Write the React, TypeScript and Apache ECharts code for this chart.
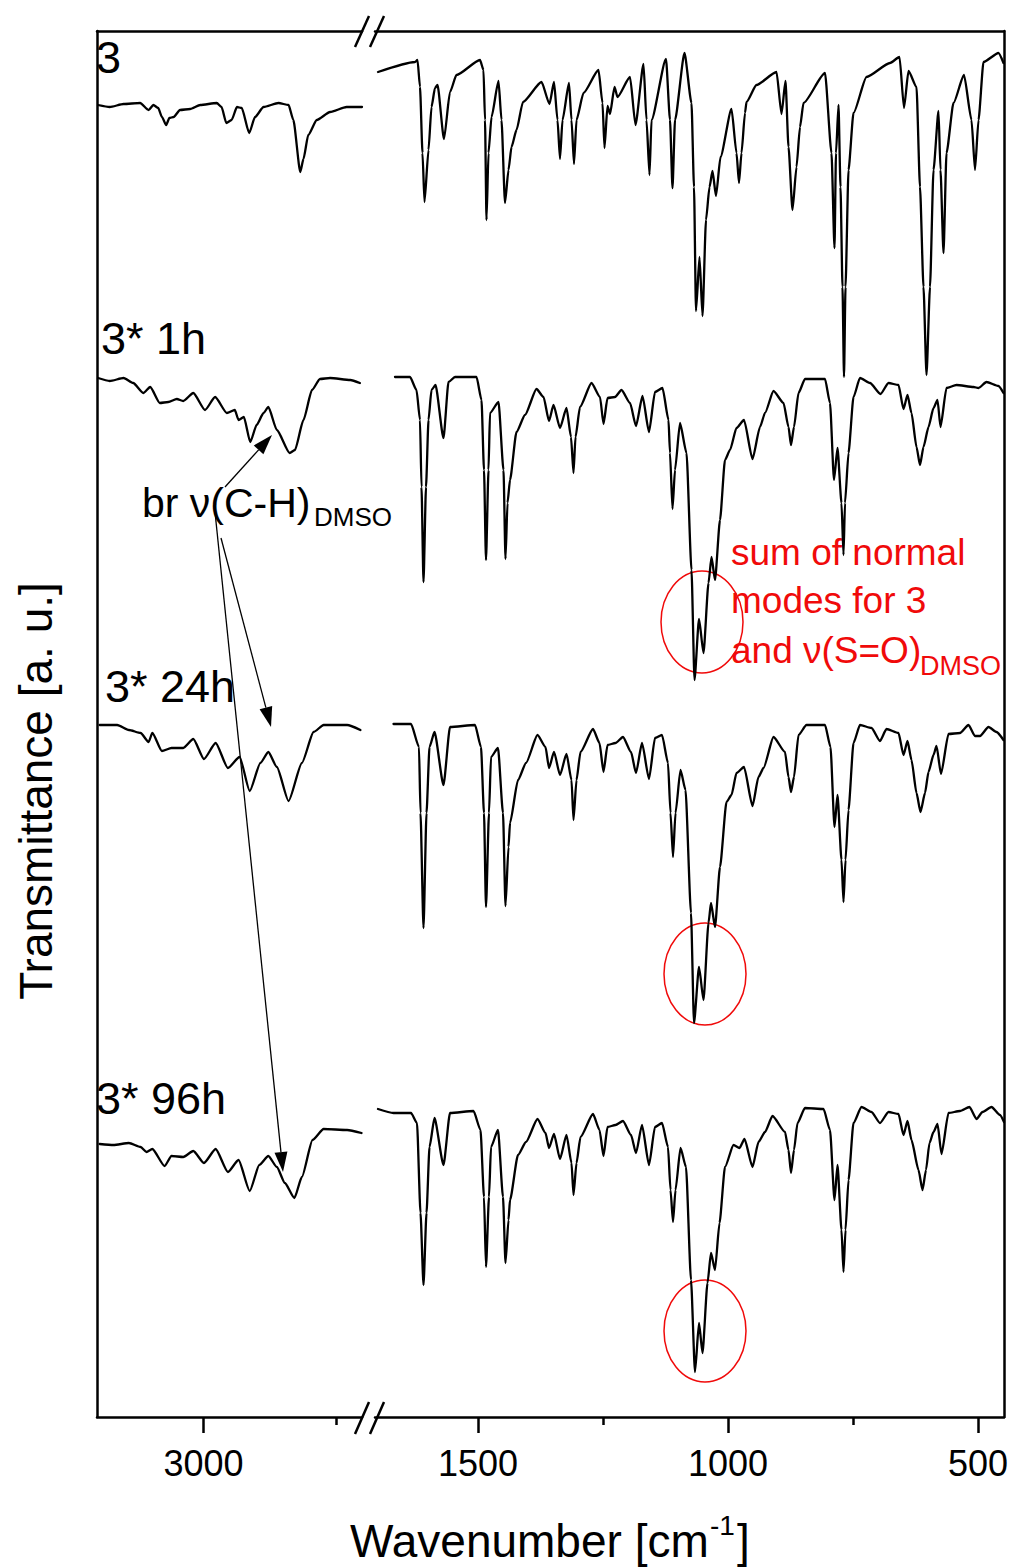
import React, { useEffect, useRef } from "react";
import * as echarts from "echarts";

const FONT = '"Liberation Sans", Arial, Helvetica, sans-serif';
const RED = "#f00a0a";

// Spectra: [wavenumber (cm-1), transmittance (a. u., each spectrum offset vertically)]
// High-wavenumber window (3200-2700 cm-1) and fingerprint window (1706-448 cm-1).
const s3Left: [number, number][] = [
  [3198, 1312], [3176, 1310], [3150, 1313], [3119, 1314], [3103, 1307], [3094, 1312], [3085, 1309],
  [3078, 1300], [3070, 1292], [3064, 1299], [3056, 1300], [3044, 1307], [3025, 1308], [3006, 1312],
  [2975, 1314], [2966, 1310], [2957, 1294], [2947, 1297], [2937, 1310], [2928, 1309], [2914, 1284],
  [2903, 1300], [2887, 1310], [2859, 1314], [2840, 1312], [2831, 1297], [2818, 1245], [2812, 1258],
  [2803, 1282], [2787, 1297], [2762, 1305], [2731, 1310], [2702, 1310],
];
const s3Right: [number, number][] = [
  [1700, 1345], [1626, 1355], [1621, 1357], [1616, 1330], [1611, 1264], [1607, 1215], [1599, 1267],
  [1593, 1310], [1586, 1329], [1581, 1332], [1568, 1278], [1556, 1325], [1543, 1342], [1496, 1357],
  [1489, 1347], [1486, 1297], [1483, 1197], [1479, 1264], [1473, 1300], [1459, 1336], [1453, 1297],
  [1446, 1214], [1439, 1247], [1433, 1270], [1423, 1287], [1410, 1315], [1373, 1335], [1357, 1313],
  [1348, 1335], [1341, 1297], [1336, 1258], [1331, 1297], [1318, 1334], [1313, 1297], [1308, 1253],
  [1303, 1297], [1289, 1324], [1259, 1347], [1251, 1314], [1247, 1269], [1241, 1311], [1236, 1303],
  [1227, 1330], [1221, 1320], [1196, 1340], [1185, 1292], [1169, 1353], [1163, 1297], [1157, 1242],
  [1153, 1297], [1124, 1358], [1116, 1297], [1111, 1229], [1106, 1297], [1087, 1364], [1073, 1314],
  [1068, 1230], [1064, 1106], [1057, 1160], [1051, 1101], [1044, 1197], [1037, 1230], [1031, 1246],
  [1024, 1221], [1015, 1260], [993, 1308], [983, 1264], [978, 1234], [973, 1264], [966, 1304],
  [963, 1315], [943, 1332], [903, 1345], [893, 1303], [885, 1336], [879, 1270], [871, 1207],
  [863, 1250], [856, 1290], [849, 1314], [806, 1344], [793, 1264], [787, 1169], [784, 1264],
  [779, 1312], [775, 1230], [771, 1130], [768, 1040], [765, 1130], [759, 1247], [749, 1304],
  [723, 1340], [676, 1354], [657, 1360], [648, 1309], [639, 1346], [623, 1330], [616, 1230],
  [609, 1130], [603, 1042], [596, 1130], [589, 1247], [579, 1306], [575, 1247], [569, 1164],
  [563, 1264], [549, 1314], [528, 1342], [513, 1297], [506, 1247], [499, 1297], [489, 1355],
  [459, 1364], [449, 1354],
];

const s1hLeft: [number, number][] = [
  [3198, 1039], [3176, 1036], [3150, 1039], [3132, 1034], [3113, 1024], [3100, 1030], [3082, 1014],
  [3066, 1015], [3050, 1018], [3038, 1016], [3019, 1024], [2997, 1007], [2978, 1020], [2956, 1004],
  [2941, 1007], [2934, 997], [2924, 1000], [2912, 975], [2900, 992], [2887, 1004], [2878, 1010],
  [2862, 987], [2838, 964], [2828, 967], [2812, 997], [2796, 1027], [2781, 1038], [2762, 1039],
  [2724, 1037], [2706, 1034],
];
const s1hRight: [number, number][] = [
  [1666, 1040], [1636, 1040], [1623, 1027], [1616, 997], [1613, 930], [1609, 835], [1604, 930],
  [1599, 997], [1593, 1027], [1585, 1032], [1569, 979], [1559, 1035], [1546, 1040], [1503, 1040],
  [1493, 1017], [1488, 947], [1484, 857], [1479, 947], [1476, 1004], [1459, 1015], [1449, 947],
  [1445, 858], [1441, 914], [1436, 937], [1423, 985], [1406, 1002], [1383, 1028], [1369, 1020],
  [1358, 996], [1349, 1012], [1336, 989], [1323, 1009], [1314, 980], [1309, 944], [1305, 980],
  [1296, 1010], [1273, 1034], [1256, 1020], [1249, 993], [1241, 1019], [1226, 1020], [1213, 1027],
  [1196, 1014], [1184, 991], [1171, 1021], [1158, 985], [1146, 1025], [1131, 1029], [1119, 997],
  [1116, 964], [1111, 908], [1106, 947], [1096, 994], [1083, 964], [1073, 847], [1067, 737],
  [1058, 798], [1049, 764], [1039, 834], [1033, 860], [1026, 837], [1016, 897], [1006, 957],
  [996, 967], [983, 989], [968, 997], [951, 958], [936, 990], [926, 1004], [909, 1026], [889, 1014],
  [879, 990], [874, 972], [868, 990], [859, 1024], [846, 1038], [806, 1038], [796, 1014], [788, 937],
  [781, 969], [773, 914], [769, 862], [766, 914], [759, 964], [749, 1020], [736, 1039], [716, 1034],
  [695, 1023], [679, 1034], [659, 1032], [649, 1008], [641, 1022], [633, 1004], [623, 970],
  [616, 952], [609, 970], [599, 990], [589, 1009], [581, 1017], [575, 990], [563, 1029], [543, 1032],
  [509, 1030], [499, 1029], [483, 1035], [459, 1031], [449, 1024],
];

const s24Left: [number, number][] = [
  [3195, 692], [3162, 692], [3140, 687], [3118, 684], [3103, 675], [3096, 684], [3078, 666],
  [3060, 669], [3038, 669], [3019, 678], [2999, 658], [2977, 674], [2954, 649], [2932, 660],
  [2913, 626], [2893, 654], [2878, 665], [2862, 650], [2840, 616], [2815, 654], [2793, 685],
  [2774, 692], [2730, 692], [2705, 687],
];
const s24Right: [number, number][] = [
  [1669, 693], [1634, 693], [1618, 670], [1615, 604], [1609, 489], [1603, 604], [1597, 670],
  [1587, 685], [1569, 632], [1556, 690], [1506, 692], [1494, 670], [1488, 604], [1484, 510],
  [1478, 604], [1474, 660], [1460, 669], [1450, 604], [1445, 511], [1439, 570], [1436, 594],
  [1420, 637], [1404, 654], [1381, 682], [1365, 670], [1358, 649], [1348, 665], [1336, 642],
  [1323, 663], [1313, 637], [1309, 597], [1303, 637], [1295, 665], [1270, 688], [1257, 674],
  [1249, 645], [1241, 672], [1225, 674], [1210, 680], [1194, 665], [1184, 644], [1172, 674],
  [1158, 638], [1146, 679], [1132, 682], [1120, 654], [1115, 604], [1110, 560], [1105, 604],
  [1095, 647], [1085, 627], [1074, 504], [1068, 394], [1058, 450], [1049, 417], [1039, 494],
  [1034, 514], [1026, 490], [1016, 550], [1003, 615], [993, 622], [983, 644], [968, 650],
  [951, 611], [939, 640], [929, 649], [909, 680], [886, 665], [879, 640], [874, 625], [868, 640],
  [859, 682], [843, 692], [806, 692], [795, 670], [787, 590], [781, 622], [773, 557], [769, 515],
  [765, 557], [759, 607], [749, 674], [736, 692], [713, 689], [696, 676], [683, 688], [659, 684],
  [649, 662], [641, 676], [633, 657], [623, 624], [615, 605], [606, 624], [599, 645], [589, 662],
  [583, 671], [574, 643], [559, 683], [536, 684], [519, 692], [506, 681], [496, 681], [479, 690],
  [463, 685], [449, 677],
];

const s96Left: [number, number][] = [
  [3195, 273], [3169, 272], [3140, 274], [3118, 270], [3107, 265], [3096, 268], [3073, 251],
  [3060, 261], [3038, 260], [3019, 266], [2999, 254], [2977, 268], [2954, 245], [2934, 257],
  [2913, 226], [2895, 252], [2878, 261], [2862, 250], [2847, 234], [2829, 219], [2815, 240],
  [2795, 277], [2774, 288], [2730, 287], [2703, 284],
];
const s96Right: [number, number][] = [
  [1700, 308], [1669, 304], [1634, 304], [1622, 294], [1615, 204], [1609, 132], [1603, 204],
  [1597, 270], [1587, 299], [1569, 252], [1556, 304], [1509, 306], [1495, 287], [1488, 220],
  [1484, 150], [1478, 220], [1474, 270], [1460, 287], [1450, 220], [1445, 154], [1439, 197],
  [1436, 217], [1420, 262], [1404, 275], [1381, 298], [1365, 284], [1358, 269], [1348, 283],
  [1336, 258], [1323, 282], [1313, 254], [1309, 222], [1303, 254], [1295, 280], [1270, 303],
  [1257, 287], [1249, 261], [1241, 290], [1225, 292], [1210, 296], [1194, 282], [1184, 264],
  [1172, 292], [1158, 252], [1146, 290], [1132, 294], [1120, 270], [1115, 227], [1110, 195],
  [1105, 227], [1095, 269], [1084, 250], [1074, 137], [1066, 45], [1058, 94], [1051, 64],
  [1041, 134], [1034, 164], [1026, 147], [1017, 194], [1006, 250], [989, 272], [977, 269],
  [967, 278], [951, 250], [939, 275], [926, 285], [911, 301], [886, 285], [879, 267], [874, 244],
  [868, 267], [861, 294], [846, 309], [809, 308], [796, 287], [787, 217], [781, 252], [773, 187],
  [769, 145], [765, 187], [759, 237], [749, 294], [733, 310], [713, 305], [696, 294], [679, 305],
  [659, 303], [649, 282], [641, 296], [633, 277], [619, 247], [611, 227], [604, 247], [597, 274],
  [589, 285], [581, 293], [573, 263], [559, 304], [536, 306], [517, 310], [503, 298], [491, 305],
  [473, 310], [456, 302], [448, 295],
];

const leftMajorTicks = [3000];
const leftMinorTicks = [2750];
const rightMajorTicks = [1500, 1000, 500];
const rightMinorTicks = [1250, 750];

const spectrumLabels = ["3", "3* 1h", "3* 24h", "3* 96h"];

const AXIS_W = 2.5;

function arrow(x1: number, y1: number, x2: number, y2: number, len = 20, half = 6.5) {
  const dx = x2 - x1;
  const dy = y2 - y1;
  const l = Math.hypot(dx, dy);
  const ux = dx / l;
  const uy = dy / l;
  const bx = x2 - ux * len;
  const by = y2 - uy * len;
  const nx = -uy;
  const ny = ux;
  return [
    { type: "line", shape: { x1, y1, x2: bx, y2: by }, style: { stroke: "#000", lineWidth: 1.3 } },
    {
      type: "polygon",
      shape: { points: [[x2, y2], [bx + nx * half, by + ny * half], [bx - nx * half, by - ny * half]] },
      style: { fill: "#000" },
    },
  ];
}

function txt(text: string, x: number, y: number, size: number, color = "#000") {
  return {
    type: "text",
    x,
    y,
    style: {
      text,
      fill: color,
      font: `${size}px ${FONT}`,
      align: "left",
      verticalAlign: "middle",
    },
  };
}

export default function App() {
  const ref = useRef<HTMLDivElement>(null);

  useEffect(() => {
    if (!ref.current) return;
    const chart = echarts.init(ref.current, undefined, { renderer: "svg" });

    const lineSeries = (data: [number, number][], xAxisIndex: number, yAxisIndex: number) => ({
      type: "line",
      data,
      xAxisIndex,
      yAxisIndex,
      showSymbol: false,
      symbol: "none",
      smooth: 0.2,
      smoothMonotone: "x",
      lineStyle: { color: "#000", width: 2.3, join: "round", cap: "round" },
      silent: true,
    });

    const hiddenAxisBits = {
      axisTick: { show: false },
      axisLabel: { show: false },
      splitLine: { show: false },
    };

    const labelStyle = {
      color: "#000",
      fontSize: 36,
      fontFamily: FONT,
      margin: 28,
      formatter: (v: number) => String(v),
    };

    chart.setOption({
      animation: false,
      backgroundColor: "#fff",
      grid: [
        { left: 97, top: 31, width: 265, height: 1386 },
        { left: 375, top: 31, width: 629, height: 1386 },
      ],
      xAxis: [
        {
          gridIndex: 0, type: "value", position: "bottom", min: 2702, max: 3200, inverse: true,
          axisLine: { show: true, lineStyle: { color: "#000", width: AXIS_W } },
          axisTick: { show: true, customValues: leftMajorTicks, length: 16, lineStyle: { color: "#000", width: AXIS_W } },
          axisLabel: { show: true, customValues: leftMajorTicks, ...labelStyle },
          splitLine: { show: false },
        },
        {
          gridIndex: 0, type: "value", position: "bottom", min: 2702, max: 3200, inverse: true,
          axisLine: { show: false },
          axisTick: { show: true, customValues: leftMinorTicks, length: 8, lineStyle: { color: "#000", width: AXIS_W } },
          axisLabel: { show: false },
          splitLine: { show: false },
        },
        {
          gridIndex: 0, type: "value", position: "top", min: 2702, max: 3200, inverse: true,
          axisLine: { show: true, lineStyle: { color: "#000", width: AXIS_W } },
          ...hiddenAxisBits,
        },
        {
          gridIndex: 1, type: "value", position: "bottom", min: 448, max: 1706, inverse: true,
          axisLine: { show: true, lineStyle: { color: "#000", width: AXIS_W } },
          axisTick: { show: true, customValues: rightMajorTicks, length: 16, lineStyle: { color: "#000", width: AXIS_W } },
          axisLabel: { show: true, customValues: rightMajorTicks, ...labelStyle },
          splitLine: { show: false },
        },
        {
          gridIndex: 1, type: "value", position: "bottom", min: 448, max: 1706, inverse: true,
          axisLine: { show: false },
          axisTick: { show: true, customValues: rightMinorTicks, length: 8, lineStyle: { color: "#000", width: AXIS_W } },
          axisLabel: { show: false },
          splitLine: { show: false },
        },
        {
          gridIndex: 1, type: "value", position: "top", min: 448, max: 1706, inverse: true,
          axisLine: { show: true, lineStyle: { color: "#000", width: AXIS_W } },
          ...hiddenAxisBits,
        },
      ],
      yAxis: [
        {
          gridIndex: 0, type: "value", position: "left", min: 0, max: 1386,
          axisLine: { show: true, lineStyle: { color: "#000", width: AXIS_W } },
          ...hiddenAxisBits,
        },
        {
          gridIndex: 1, type: "value", position: "right", min: 0, max: 1386,
          axisLine: { show: true, lineStyle: { color: "#000", width: AXIS_W } },
          ...hiddenAxisBits,
        },
      ],
      series: [
        lineSeries(s3Left, 0, 0),
        lineSeries(s3Right, 3, 1),
        lineSeries(s1hLeft, 0, 0),
        lineSeries(s1hRight, 3, 1),
        lineSeries(s24Left, 0, 0),
        lineSeries(s24Right, 3, 1),
        lineSeries(s96Left, 0, 0),
        lineSeries(s96Right, 3, 1),
      ],
      graphic: [
        // axis break marks
        { type: "line", shape: { x1: 355, y1: 47, x2: 369, y2: 16 }, style: { stroke: "#000", lineWidth: AXIS_W } },
        { type: "line", shape: { x1: 370, y1: 47, x2: 384, y2: 16 }, style: { stroke: "#000", lineWidth: AXIS_W } },
        { type: "line", shape: { x1: 355, y1: 1434, x2: 369, y2: 1402 }, style: { stroke: "#000", lineWidth: AXIS_W } },
        { type: "line", shape: { x1: 370, y1: 1434, x2: 384, y2: 1402 }, style: { stroke: "#000", lineWidth: AXIS_W } },

        // spectrum labels
        txt(spectrumLabels[0], 96, 57, 45),
        txt(spectrumLabels[1], 101, 338, 45),
        txt(spectrumLabels[2], 105, 686, 45),
        txt(spectrumLabels[3], 96, 1098, 45),

        // DMSO C-H annotation
        txt("br \u03bd(C-H)", 142, 503, 41),
        txt("DMSO", 314, 517, 26),
        ...arrow(225, 487, 272, 435),
        ...arrow(221, 538, 271, 727),
        ...arrow(215, 512, 283, 1172),

        // S=O annotation
        txt("sum of normal", 731, 552, 37, RED),
        txt("modes for 3", 731, 600, 37, RED),
        txt("and \u03bd(S=O)", 731, 650, 37, RED),
        txt("DMSO", 920, 666, 27, RED),
        { type: "ellipse", shape: { cx: 702, cy: 622, rx: 41, ry: 51 }, style: { stroke: RED, fill: "none", lineWidth: 1.5 } },
        { type: "ellipse", shape: { cx: 705, cy: 974, rx: 41, ry: 51 }, style: { stroke: RED, fill: "none", lineWidth: 1.5 } },
        { type: "ellipse", shape: { cx: 705, cy: 1331, rx: 41, ry: 51 }, style: { stroke: RED, fill: "none", lineWidth: 1.5 } },

        // axis titles
        txt("Wavenumber [cm", 350, 1541, 46),
        txt("-1", 710, 1525, 28),
        txt("]", 737, 1541, 46),
        {
          type: "text",
          x: 36,
          y: 791,
          rotation: Math.PI / 2,
          style: {
            text: "Transmittance [a. u.]",
            fill: "#000",
            font: `46px ${FONT}`,
            align: "center",
            verticalAlign: "middle",
          },
        },
      ],
    });

    return () => chart.dispose();
  }, []);

  return (
    <div
      ref={ref}
      style={{ position: "fixed", left: 0, top: 0, width: 1015, height: 1567, background: "#fff" }}
    />
  );
}
